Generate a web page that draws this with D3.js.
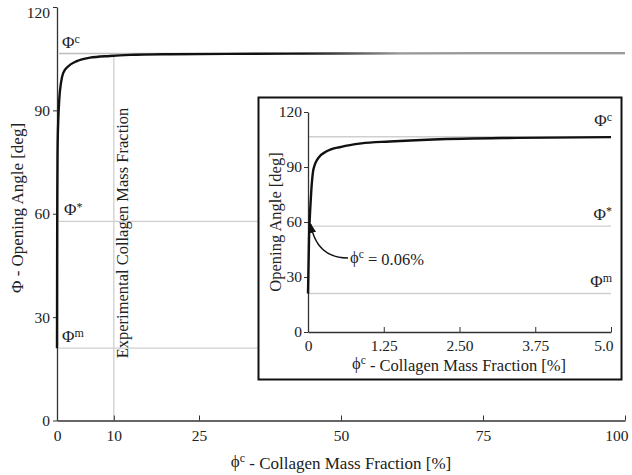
<!DOCTYPE html>
<html><head><meta charset="utf-8">
<script src="https://cdn.jsdelivr.net/npm/d3@7"></script>
<style>
body{margin:0;background:#fff;}
text{font-family:"Liberation Serif","Times New Roman",serif;fill:#222;}
</style></head>
<body><svg id="c" width="632" height="475"></svg>
<script>
// ---- data ----
const mainPhi   = [0, 0.02, 0.05, 0.1, 0.15, 0.23, 0.4, 0.7, 1.1, 2.0, 3.5, 5.8, 9.3, 12.9, 20, 30, 50, 75, 100];
const mainAngle = [21, 45, 65, 78, 83, 87.4, 93.2, 98, 100.9, 102.8, 104.3, 105.3, 105.8, 106.1, 106.3, 106.4, 106.5, 106.6, 106.6];
const insetPhi   = [0, 0.017, 0.04, 0.056, 0.083, 0.11, 0.165, 0.3, 0.55, 0.88, 1.35, 2.07, 3.45, 5.0];
const insetAngle = [21, 51, 69, 78, 87.5, 91, 94.7, 98.4, 101, 102.9, 103.9, 105.0, 105.9, 106.3];
const refNames  = ["Φ", "Φ", "Φ"];
const refSups   = ["c", "*", "m"];
const refValues = [106.5, 57.8, 21];
const experimentalFraction = 10;
const mainXTicks = [0, 10, 25, 50, 75, 100];
const mainYTicks = [0, 30, 60, 90, 120];
const insetXTicks = [0, 1.25, 2.5, 3.75, 5.0];
const insetXTickLabels = ["0", "1.25", "2.50", "3.75", "5.0"];
const insetYTicks = [0, 30, 60, 90, 120];
const annotPhi = 0.06;

const svg = d3.select("#c");
const grey = "#cfcfcf";
const serif = '"Liberation Serif","Times New Roman",serif';

function styleAxis(g) {
  g.attr("font-family", serif).attr("font-size", 15.5);
  g.select(".domain").attr("stroke", "#333").attr("stroke-width", 1.3);
  g.selectAll(".tick line").attr("stroke", "#333");
  g.selectAll(".tick text").style("font-size", "15.5px").style("font-family", serif).attr("fill", "#222");
}

// ---- main chart ----
const x = d3.scaleLinear().domain([0, 100]).range([57, 625]);
const y = d3.scaleLinear().domain([0, 120]).range([420.5, 7]);

const gMain = svg.append("g");
refValues.forEach((v, i) => {
  gMain.append("line").attr("x1", x(0) + 2).attr("x2", i === 0 ? x(100) : 258)
    .attr("y1", y(v)).attr("y2", y(v)).attr("stroke", i === 0 ? "#bdbdbd" : grey).attr("stroke-width", 1.3);
});
gMain.append("line").attr("x1", x(experimentalFraction)).attr("x2", x(experimentalFraction))
  .attr("y1", y(105.8)).attr("y2", y(0)).attr("stroke", grey).attr("stroke-width", 1.3);
gMain.append("text").attr("transform", `translate(${x(experimentalFraction) + 14},233) rotate(-90)`)
  .attr("text-anchor", "middle").style("font-size", "16.5px").text("Experimental Collagen Mass Fraction");

const xAxis = d3.axisBottom(x).tickValues(mainXTicks).tickSizeInner(-5).tickSizeOuter(0).tickPadding(9);
const gx = gMain.append("g").attr("transform", `translate(0,${y(0)})`).call(xAxis);
const yAxis = d3.axisLeft(y).tickValues(mainYTicks).tickSizeInner(4).tickSizeOuter(0).tickPadding(3);
const gy = gMain.append("g").attr("transform", `translate(${x(0)},0)`).call(yAxis);
[gx, gy].forEach(styleAxis);
gx.selectAll(".tick text").filter(d => d === 100).attr("text-anchor", "end").attr("dx", 3);
gy.selectAll(".tick text").filter(d => d === 120).attr("dy", "0.7em");

// main curve: black near the knee, greyer far right
const grad = svg.append("defs").append("linearGradient").attr("id", "fade")
  .attr("gradientUnits", "userSpaceOnUse").attr("x1", 300).attr("x2", 400).attr("y1", 0).attr("y2", 0);
grad.append("stop").attr("offset", 0).attr("stop-color", "#111");
grad.append("stop").attr("offset", 1).attr("stop-color", "#9a9a9a");
const line = d3.line().x(d => x(d[0])).y(d => y(d[1])).curve(d3.curveMonotoneX);
gMain.append("path").datum(mainPhi.map((p, i) => [p, mainAngle[i]]))
  .attr("d", line).attr("fill", "none").attr("stroke", "url(#fade)").attr("stroke-width", 2.4);

const mainLabelPos = [[62, y(refValues[0]) - 6], [64, y(refValues[1]) - 6], [62, y(refValues[2]) - 6]];
refValues.forEach((v, i) => {
  const t = gMain.append("text").attr("x", mainLabelPos[i][0]).attr("y", mainLabelPos[i][1]).style("font-size", "17px");
  t.append("tspan").text(refNames[i]);
  t.append("tspan").attr("dy", "-0.4em").style("font-size", "12px").text(refSups[i]);
});

gMain.append("text").attr("transform", "translate(23,208) rotate(-90)").attr("text-anchor", "middle")
  .style("font-size", "17px").text("Φ - Opening Angle [deg]");
const xt = gMain.append("text").attr("x", 341).attr("y", 467).attr("text-anchor", "middle").style("font-size", "17px");
xt.append("tspan").text("ϕ");
xt.append("tspan").attr("dy", "-0.45em").style("font-size", "12px").text("c");
xt.append("tspan").attr("dy", "0.45em").text(" - Collagen Mass Fraction [%]");

// ---- inset ----
const gIn = svg.append("g");
gIn.append("rect").attr("x", 258.5).attr("y", 97.5).attr("width", 363).attr("height", 282)
  .attr("fill", "#fff").attr("stroke", "#111").attr("stroke-width", 2);
const xi = d3.scaleLinear().domain([0, 5]).range([308, 611]);
const yi = d3.scaleLinear().domain([0, 120]).range([332, 112]);
refValues.forEach(v => {
  gIn.append("line").attr("x1", xi(0) + 1).attr("x2", xi(5)).attr("y1", yi(v)).attr("y2", yi(v))
    .attr("stroke", grey).attr("stroke-width", 1.3);
});
const xiAxis = d3.axisBottom(xi).tickValues(insetXTicks).tickFormat((d, i) => insetXTickLabels[i])
  .tickSizeInner(-5).tickSizeOuter(0).tickPadding(8);
const gxi = gIn.append("g").attr("transform", `translate(0,${yi(0)})`).call(xiAxis);
const yiAxis = d3.axisLeft(yi).tickValues(insetYTicks).tickSizeInner(4).tickSizeOuter(0).tickPadding(2);
const gyi = gIn.append("g").attr("transform", `translate(${xi(0)},0)`).call(yiAxis);
[gxi, gyi].forEach(styleAxis);
gxi.selectAll(".tick text").filter(d => d === 5).attr("text-anchor", "end").attr("dx", 2);

const linei = d3.line().x(d => xi(d[0])).y(d => yi(d[1])).curve(d3.curveMonotoneX);
gIn.append("path").datum(insetPhi.map((p, i) => [p, insetAngle[i]]))
  .attr("d", linei).attr("fill", "none").attr("stroke", "#111").attr("stroke-width", 2.4);

const insetLabelY = [yi(refValues[0]) - 11, yi(refValues[1]) - 6, yi(refValues[2]) - 7];
refValues.forEach((v, i) => {
  const t = gIn.append("text").attr("x", 612).attr("y", insetLabelY[i]).attr("text-anchor", "end").style("font-size", "17px");
  t.append("tspan").text(refNames[i]);
  t.append("tspan").attr("dy", "-0.4em").style("font-size", "12px").text(refSups[i]);
});

gIn.append("text").attr("transform", "translate(281,222) rotate(-90)").attr("text-anchor", "middle")
  .style("font-size", "16.5px").text("Opening Angle [deg]");
const xti = gIn.append("text").attr("x", 459).attr("y", 369).attr("text-anchor", "middle").style("font-size", "16.5px");
xti.append("tspan").text("ϕ");
xti.append("tspan").attr("dy", "-0.45em").style("font-size", "11.5px").text("c");
xti.append("tspan").attr("dy", "0.45em").text(" - Collagen Mass Fraction [%]");

svg.select("defs").append("marker").attr("id", "ah").attr("viewBox", "0 0 10 10").attr("refX", 9).attr("refY", 5)
  .attr("markerWidth", 7).attr("markerHeight", 7).attr("orient", "auto")
  .append("path").attr("d", "M0,1 L10,5 L0,9 Z").attr("fill", "#111");
const tipX = xi(annotPhi) - 1, tipY = yi(refValues[1]) - 2;
gIn.append("path").attr("d", `M348,258 Q${tipX + 6},258 ${tipX},${tipY}`)
  .attr("fill", "none").attr("stroke", "#111").attr("stroke-width", 1.4).attr("marker-end", "url(#ah)");
const at = gIn.append("text").attr("x", 350).attr("y", 263).style("font-size", "16.5px");
at.append("tspan").text("ϕ");
at.append("tspan").attr("dy", "-0.45em").style("font-size", "11.5px").text("c");
at.append("tspan").attr("dy", "0.45em").text(" = 0.06%");
</script></body></html>
